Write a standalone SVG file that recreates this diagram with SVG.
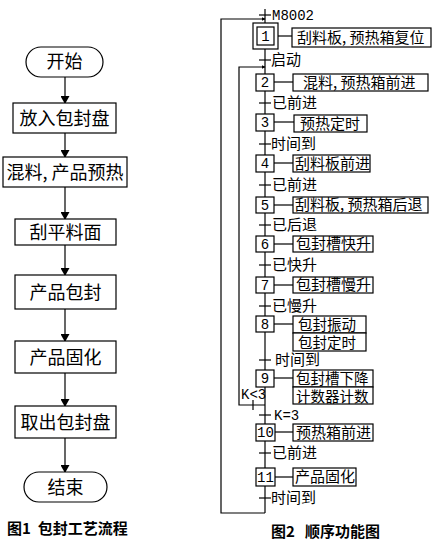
<svg xmlns="http://www.w3.org/2000/svg" width="433" height="542" viewBox="0 0 433 542">
<style>
.bg{fill:#fff}
.box{fill:#fff;stroke:#000;stroke-width:1.2}
.ln{fill:none;stroke:#000;stroke-width:1.2}
.t1{font-family:"Noto Sans CJK SC","Liberation Sans",sans-serif;font-size:18px;fill:#000;text-anchor:middle}
.t2{font-family:"Noto Sans CJK SC","Liberation Sans",sans-serif;font-size:15px;fill:#000}
.t3{font-family:"Noto Sans CJK SC","Liberation Sans",sans-serif;font-size:14.5px;fill:#000}
.tm{font-family:"Liberation Mono",monospace;font-size:14px;fill:#000}
.num{font-family:"Liberation Mono",monospace;font-size:14px;fill:#000;text-anchor:middle}
.cap{font-family:"Noto Sans CJK SC","Liberation Sans",sans-serif;font-size:15px;font-weight:bold;fill:#000}
</style>
<defs>
<marker id="ah" markerWidth="8" markerHeight="9" refX="7" refY="4.5" orient="auto" markerUnits="userSpaceOnUse">
<path d="M0,0 L8,4.5 L0,9 Z" fill="#000"/>
</marker>
<marker id="sa" markerWidth="4" markerHeight="4" refX="3.5" refY="2" orient="auto" markerUnits="userSpaceOnUse">
<path d="M0,0 L4,2 L0,4 Z" fill="#000"/>
</marker>
</defs>
<rect class="bg" x="0" y="0" width="433" height="542"/>

<g id="connectors">
<line class="ln" x1="65" y1="77" x2="65" y2="103" marker-end="url(#ah)"/>
<line class="ln" x1="65" y1="133" x2="65" y2="157" marker-end="url(#ah)"/>
<line class="ln" x1="65" y1="187" x2="65" y2="219" marker-end="url(#ah)"/>
<line class="ln" x1="65" y1="245" x2="65" y2="275" marker-end="url(#ah)"/>
<line class="ln" x1="65" y1="309" x2="65" y2="341" marker-end="url(#ah)"/>
<line class="ln" x1="65" y1="373" x2="65" y2="406" marker-end="url(#ah)"/>
<line class="ln" x1="65" y1="438" x2="65" y2="472" marker-end="url(#ah)"/>
<line class="ln" x1="265" y1="9" x2="265" y2="513"/>
<polyline class="ln" points="265,513 221,513 221,19 265,19" marker-end="url(#sa)"/>
<polyline class="ln" points="265,405 239,405 239,67 265,67" marker-end="url(#sa)"/>
<g class="ln">
<line x1="259" y1="15" x2="271" y2="15"/>
<line x1="259" y1="60" x2="271" y2="60"/>
<line x1="259" y1="103" x2="271" y2="103"/>
<line x1="259" y1="144" x2="271" y2="144"/>
<line x1="259" y1="185" x2="271" y2="185"/>
<line x1="259" y1="225" x2="271" y2="225"/>
<line x1="259" y1="265" x2="271" y2="265"/>
<line x1="259" y1="306" x2="271" y2="306"/>
<line x1="259" y1="360" x2="271" y2="360"/>
<line x1="259" y1="415" x2="271" y2="415"/>
<line x1="259" y1="453" x2="271" y2="453"/>
<line x1="259" y1="498" x2="271" y2="498"/>
<line x1="253" y1="400" x2="253" y2="410"/>
</g>
<g class="ln">
<line x1="278" y1="36" x2="292" y2="36"/>
<line x1="274" y1="82" x2="293" y2="82"/>
<line x1="274" y1="122" x2="294" y2="122"/>
<line x1="274" y1="163" x2="293" y2="163"/>
<line x1="274" y1="205" x2="293" y2="205"/>
<line x1="274" y1="244" x2="293" y2="244"/>
<line x1="274" y1="285" x2="293" y2="285"/>
<line x1="274" y1="324" x2="293" y2="324"/>
<line x1="274" y1="378" x2="293" y2="378"/>
<line x1="275" y1="432" x2="293" y2="432"/>
<line x1="275" y1="477" x2="293" y2="477"/>
</g>
</g>

<g id="start"><rect class="box" x="26" y="47" width="77" height="30" rx="15"/><text class="t1" x="64.5" y="68">开始</text></g>
<g id="n1"><rect class="box" x="13" y="103" width="103" height="30"/><text class="t1" x="64.5" y="124.5">放入包封盘</text></g>
<g id="n2"><rect class="box" x="3" y="157" width="124" height="30"/><text class="t1" x="65" y="178.5">混料, 产品预热</text></g>
<g id="n3"><rect class="box" x="15" y="219" width="101" height="26"/><text class="t1" x="65.5" y="238.5">刮平料面</text></g>
<g id="n4"><rect class="box" x="15" y="275" width="101" height="34"/><text class="t1" x="65.5" y="298.5">产品包封</text></g>
<g id="n5"><rect class="box" x="15" y="341" width="101" height="32"/><text class="t1" x="65.5" y="363.5">产品固化</text></g>
<g id="n6"><rect class="box" x="15" y="406" width="101" height="32"/><text class="t1" x="65.5" y="428.5">取出包封盘</text></g>
<g id="end"><rect class="box" x="24" y="472" width="83" height="30" rx="15"/><text class="t1" x="65.5" y="493.5">结束</text></g>
<text class="cap" x="7" y="534">图1&#160;&#160;包封工艺流程</text>

<g id="s1"><rect class="box" x="253" y="23" width="25" height="26"/><rect class="box" x="257" y="27" width="17" height="18"/><text class="num" x="265.5" y="41">1</text></g>
<g id="a1"><rect class="box" x="292" y="28" width="139" height="19"/><text class="t2" x="297" y="43">刮料板, 预热箱复位</text></g>
<g id="s2"><rect class="box" x="256" y="74" width="18" height="17"/><text class="num" x="265" y="87">2</text></g>
<g id="a2"><rect class="box" x="293" y="74" width="135" height="17"/><text class="t2" x="303" y="88">混料, 预热箱前进</text></g>
<g id="s3"><rect class="box" x="256" y="114" width="18" height="17"/><text class="num" x="265" y="127">3</text></g>
<g id="a3"><rect class="box" x="294" y="115" width="73" height="17"/><text class="t2" x="300" y="129">预热定时</text></g>
<g id="s4"><rect class="box" x="256" y="155" width="18" height="17"/><text class="num" x="265" y="168">4</text></g>
<g id="a4"><rect class="box" x="293" y="155" width="77" height="17"/><text class="t2" x="295" y="169">刮料板前进</text></g>
<g id="s5"><rect class="box" x="256" y="197" width="18" height="16"/><text class="num" x="265" y="210">5</text></g>
<g id="a5"><rect class="box" x="293" y="197" width="135" height="16"/><text class="t2" x="295" y="210">刮料板, 预热箱后退</text></g>
<g id="s6"><rect class="box" x="256" y="236" width="18" height="16"/><text class="num" x="265" y="249">6</text></g>
<g id="a6"><rect class="box" x="293" y="236" width="80" height="16"/><text class="t2" x="296" y="249">包封槽快升</text></g>
<g id="s7"><rect class="box" x="256" y="277" width="18" height="16"/><text class="num" x="265" y="290">7</text></g>
<g id="a7"><rect class="box" x="293" y="277" width="80" height="16"/><text class="t2" x="296" y="290">包封槽慢升</text></g>
<g id="s8"><rect class="box" x="256" y="316" width="18" height="16"/><text class="num" x="265" y="329">8</text></g>
<g id="a8"><rect class="box" x="293" y="316" width="73" height="17"/><text class="t3" x="298" y="329.5">包封振动</text><rect class="box" x="293" y="333" width="73" height="18"/><text class="t3" x="298" y="348">包封定时</text></g>
<g id="s9"><rect class="box" x="256" y="370" width="18" height="17"/><text class="num" x="265" y="383">9</text></g>
<g id="a9"><rect class="box" x="293" y="370" width="80" height="17"/><text class="t3" x="296" y="383.5">包封槽下降</text><rect class="box" x="293" y="387" width="80" height="17"/><text class="t3" x="296" y="401.5">计数器计数</text></g>
<g id="s10"><rect class="box" x="256" y="424" width="19" height="17"/><text class="num" x="265.5" y="437">10</text></g>
<g id="a10"><rect class="box" x="293" y="424" width="80" height="17"/><text class="t2" x="296" y="438">预热箱前进</text></g>
<g id="s11"><rect class="box" x="256" y="468" width="19" height="18"/><text class="num" x="265.5" y="482">11</text></g>
<g id="a11"><rect class="box" x="293" y="468" width="63" height="18"/><text class="t2" x="295" y="482">产品固化</text></g>

<g id="labels">
<text class="tm" x="272" y="20">M8002</text>
<text class="t2" x="271" y="65">启动</text>
<text class="t2" x="272" y="108">已前进</text>
<text class="t2" x="271" y="149">时间到</text>
<text class="t2" x="272" y="190">已前进</text>
<text class="t2" x="272" y="230">已后退</text>
<text class="t2" x="272" y="270">已快升</text>
<text class="t2" x="272" y="311">已慢升</text>
<text class="t2" x="275" y="365">时间到</text>
<text class="tm" x="241" y="399">K&lt;3</text>
<text class="tm" x="274" y="420">K=3</text>
<text class="t2" x="272" y="458">已前进</text>
<text class="t2" x="271" y="503">时间到</text>
</g>
<text class="cap" x="271" y="537">图2&#160;&#160;&#160;顺序功能图</text>
</svg>
